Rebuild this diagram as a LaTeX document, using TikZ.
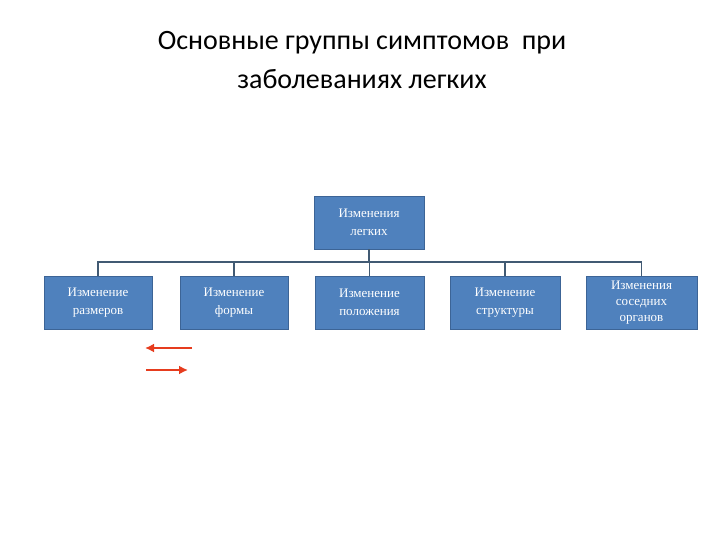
\documentclass[tikz,border=0pt]{standalone}
\usepackage{fontspec}
\setmainfont{Liberation Serif}
\newfontfamily\titlefont{Carlito}
\usetikzlibrary{arrows.meta}
\definecolor{boxblue}{RGB}{79,129,189}
\definecolor{boxedge}{RGB}{60,100,150}
\definecolor{linegray}{RGB}{65,90,115}
\definecolor{arrred}{RGB}{230,60,30}
\tikzset{
  box/.style={draw=boxedge,fill=boxblue,text=white,align=center,font=\fontsize{13}{18}\selectfont,minimum height=53pt,inner sep=1pt},
  conn/.style={draw=linegray,line width=1.8pt},
  redarr/.style={draw=arrred,line width=2.8pt,-{Latex[length=9pt,width=9pt]}}
}
\begin{document}
\begin{tikzpicture}[x=1pt,y=-1pt]
\useasboundingbox (0,0) rectangle (720,540);
\node[font=\titlefont\fontsize{28}{34}\selectfont] (t1) at (362,43) {Основные группы симптомов\ \ при};
\node[font=\titlefont\fontsize{28}{34}\selectfont] (t2) at (362,79) {заболеваниях легких};
\node[box,minimum width=110pt] (top) at (369,222.5) {Изменения\\легких};
\node[box,minimum width=108pt] (b1) at (98,302.5) {Изменение\\размеров};
\node[box,minimum width=108pt] (b2) at (234,302.5) {Изменение\\формы};
\node[box,minimum width=109pt] (b3) at (369.5,302.5) {Изменение\\положения};
\node[box,minimum width=110pt] (b4) at (505,302.5) {Изменение\\структуры};
\node[box,minimum width=111pt,font=\fontsize{13}{16}\selectfont] (b5) at (641.5,302.5) {Изменения\\соседних\\органов};
\coordinate (bus) at (369,262);
\draw[conn] (top.south) -- (bus);
\draw[conn] (b1.north) -- ++(0,-14) -| (b5.north);
\foreach \b in {b2,b3,b4} \draw[conn] (\b.north) -- ++(0,-14);
\coordinate (a1s) at (192,348); \coordinate (a1e) at (145,348);
\coordinate (a2s) at (146,370); \coordinate (a2e) at (188,370);
\draw[redarr] (a1s) -- (a1e);
\draw[redarr] (a2s) -- (a2e);
\end{tikzpicture}
\end{document}
